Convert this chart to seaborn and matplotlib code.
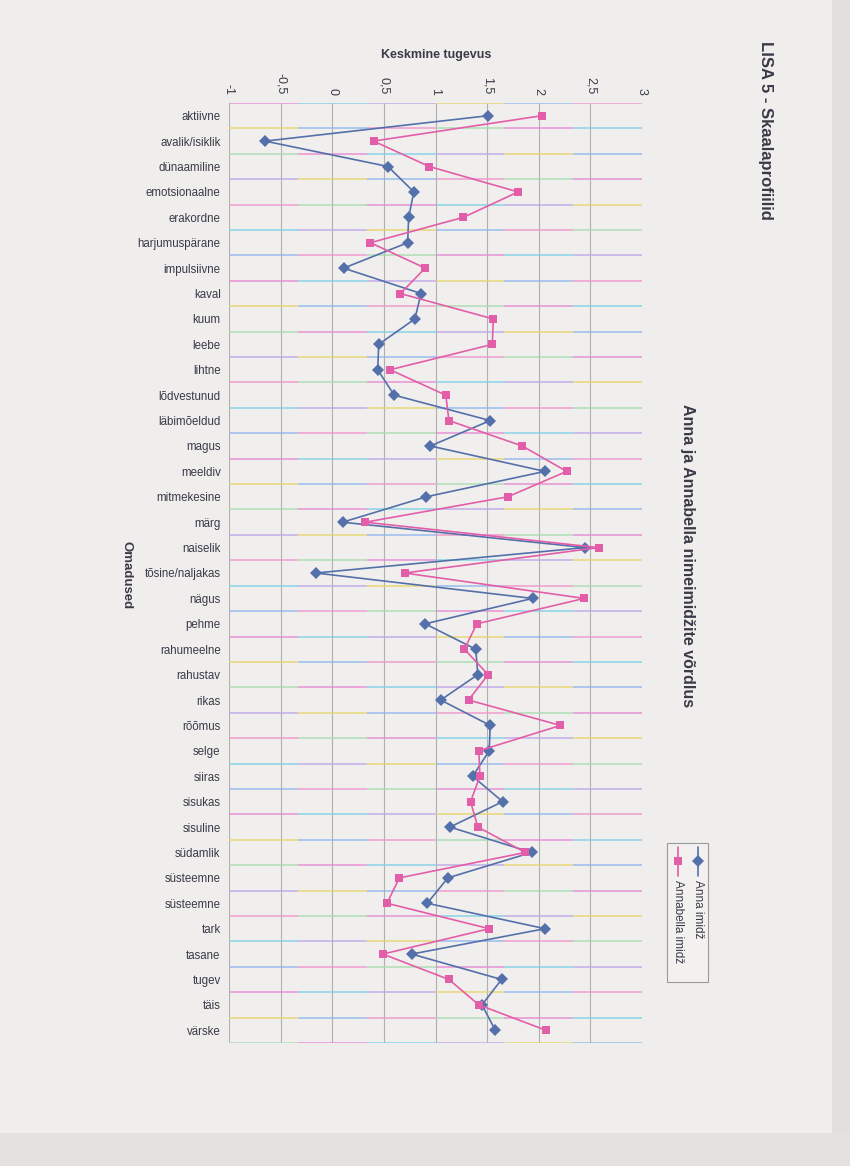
import numpy as np
import pandas as pd
import matplotlib
matplotlib.use("Agg")
import matplotlib.pyplot as plt
from matplotlib.patches import Rectangle
from matplotlib.lines import Line2D
import seaborn as sns

categories = ["aktiivne", "avalik/isiklik", "dünaamiline", "emotsionaalne", "erakordne",
              "harjumuspärane", "impulsiivne", "kaval", "kuum", "leebe", "lihtne",
              "lõdvestunud", "läbimõeldud", "magus", "meeldiv", "mitmekesine", "märg",
              "naiselik", "tõsine/naljakas", "nägus", "pehme", "rahumeelne", "rahustav",
              "rikas", "rõõmus", "selge", "siiras", "sisukas", "sisuline", "südamlik",
              "süsteemne", "süsteemne", "tark", "tasane", "tugev", "täis", "värske"]

anna = [1.51, -0.65, 0.54, 0.79, 0.74, 0.73, 0.11, 0.86, 0.80, 0.45, 0.44,
        0.60, 1.53, 0.95, 2.06, 0.91, 0.10, 2.45, -0.16, 1.94, 0.90, 1.39, 1.41,
        1.05, 1.53, 1.52, 1.36, 1.65, 1.14, 1.93, 1.12, 0.92, 2.06, 0.77, 1.64,
        1.45, 1.58]

annabella = [2.03, 0.40, 0.94, 1.80, 1.27, 0.37, 0.90, 0.66, 1.56, 1.55, 0.56,
             1.10, 1.13, 1.84, 2.27, 1.70, 0.32, 2.58, 0.70, 2.44, 1.40, 1.28, 1.51,
             1.32, 2.21, 1.42, 1.43, 1.34, 1.41, 1.87, 0.65, 0.53, 1.52, 0.49, 1.13,
             1.42, 2.07]

series_names = ["Anna imidž", "Annabella imidž"]
x_ticks = [-1, -0.5, 0, 0.5, 1, 1.5, 2, 2.5, 3]
x_tick_labels = ["-1", "-0,5", "0", "0,5", "1", "1,5", "2", "2,5", "3"]

BLUE = "#5470aa"
PINK = "#e35ea8"
TXT = "#3a3a48"

sns.set_theme(style="white")
plt.rcParams["font.family"] = ["Liberation Sans", "DejaVu Sans"]

W, H = 850, 1166
fig = plt.figure(figsize=(W / 100, H / 100), dpi=100)
fig.patch.set_facecolor("#f0eeec")

def fx(x):
    return x / W

def fy(y):
    return 1 - y / H

# page edges (scan)
fig.patches.append(Rectangle((fx(832), 0), 1 - fx(832), 1, transform=fig.transFigure,
                             facecolor="#e2e0de", edgecolor="none", zorder=-5))
fig.patches.append(Rectangle((0, 0), 1, fy(1133), transform=fig.transFigure,
                             facecolor="#e4e2e0", edgecolor="none", zorder=-5))

ax = fig.add_axes([fx(229), fy(1043), (642 - 229) / W, (1043 - 103) / H])
ax.set_facecolor("#f1efed")

pos = np.arange(len(categories))
df = pd.DataFrame({
    "value": anna + annabella,
    "pos": np.concatenate([pos, pos]),
    "series": [series_names[0]] * len(anna) + [series_names[1]] * len(annabella),
})

sns.lineplot(data=df, x="value", y="pos", hue="series", style="series",
             palette={series_names[0]: BLUE, series_names[1]: PINK},
             markers={series_names[0]: "D", series_names[1]: "s"},
             dashes=False, sort=False, orient="y", estimator=None,
             markersize=6.3, markeredgewidth=0, linewidth=1.2, legend=False, ax=ax,
             zorder=5)

ax.set_xlim(-1, 3)
ax.set_ylim(len(categories) - 0.5, -0.5)

# vertical grid
for v in x_ticks:
    ax.axvline(v, color="#b0b0b0", lw=0.8, zorder=1)

# horizontal boundary lines with scanner-like colour fringes
cols = ["#e58ad2", "#7fd0e6", "#bca6e8", "#e6d46e", "#8fb6ee", "#f095cc", "#a6dcb0"]
for k in range(len(categories) + 1):
    y = k - 0.5
    nseg = 6
    edges = np.linspace(-1, 3, nseg + 1)
    for s in range(nseg):
        c = cols[(k * 3 + s) % len(cols)]
        ax.hlines(y, edges[s], edges[s + 1], colors=c, lw=1.1, alpha=0.9, zorder=2)

for sp in ax.spines.values():
    sp.set_visible(False)

ax.xaxis.tick_top()
ax.set_xticks(x_ticks)
ax.set_xticklabels(x_tick_labels, rotation=-90, fontsize=9, color=TXT)
ax.tick_params(axis="x", length=0, pad=6)
ax.set_yticks(pos)
ax.set_yticklabels(categories, fontsize=8.3, color=TXT)
ax.tick_params(axis="y", length=0, pad=6)
ax.set_xlabel("")
ax.set_ylabel("")

fig.text(fx(436), fy(55), "Keskmine tugevus", ha="center", va="center",
         fontsize=9, fontweight="bold", color=TXT)
fig.text(fx(127), fy(575), "Omadused", ha="center", va="center", rotation=-90,
         fontsize=9.5, fontweight="bold", color=TXT)
fig.text(fx(688), fy(556), "Anna ja Annabella nimeimidžite võrdlus", ha="center",
         va="center", rotation=-90, fontsize=11.5, fontweight="bold", color=TXT)
fig.text(fx(765), fy(130), "LISA 5 - Skaalaprofiilid", ha="center", va="center",
         rotation=-90, fontsize=12, fontweight="bold", color=TXT)

# rotated legend
fig.patches.append(Rectangle((fx(667), fy(982)), (708 - 667) / W, (982 - 843) / H,
                             transform=fig.transFigure, facecolor="#f3f1ef",
                             edgecolor="#9a9a9a", lw=0.8, zorder=3))
for xc, col, mk, name in [(698, BLUE, "D", series_names[0]), (678, PINK, "s", series_names[1])]:
    fig.add_artist(Line2D([fx(xc), fx(xc)], [fy(847), fy(876)], transform=fig.transFigure,
                          color=col, lw=1.2, zorder=4))
    fig.add_artist(Line2D([fx(xc)], [fy(861)], transform=fig.transFigure, color=col,
                          marker=mk, markersize=6.3, markeredgewidth=0, zorder=5))
    fig.text(fx(xc), fy(880), name, ha="center", va="top", rotation=-90,
             fontsize=8.5, color=TXT, zorder=5)

fig.savefig("out.png", dpi=100, facecolor=fig.get_facecolor())
